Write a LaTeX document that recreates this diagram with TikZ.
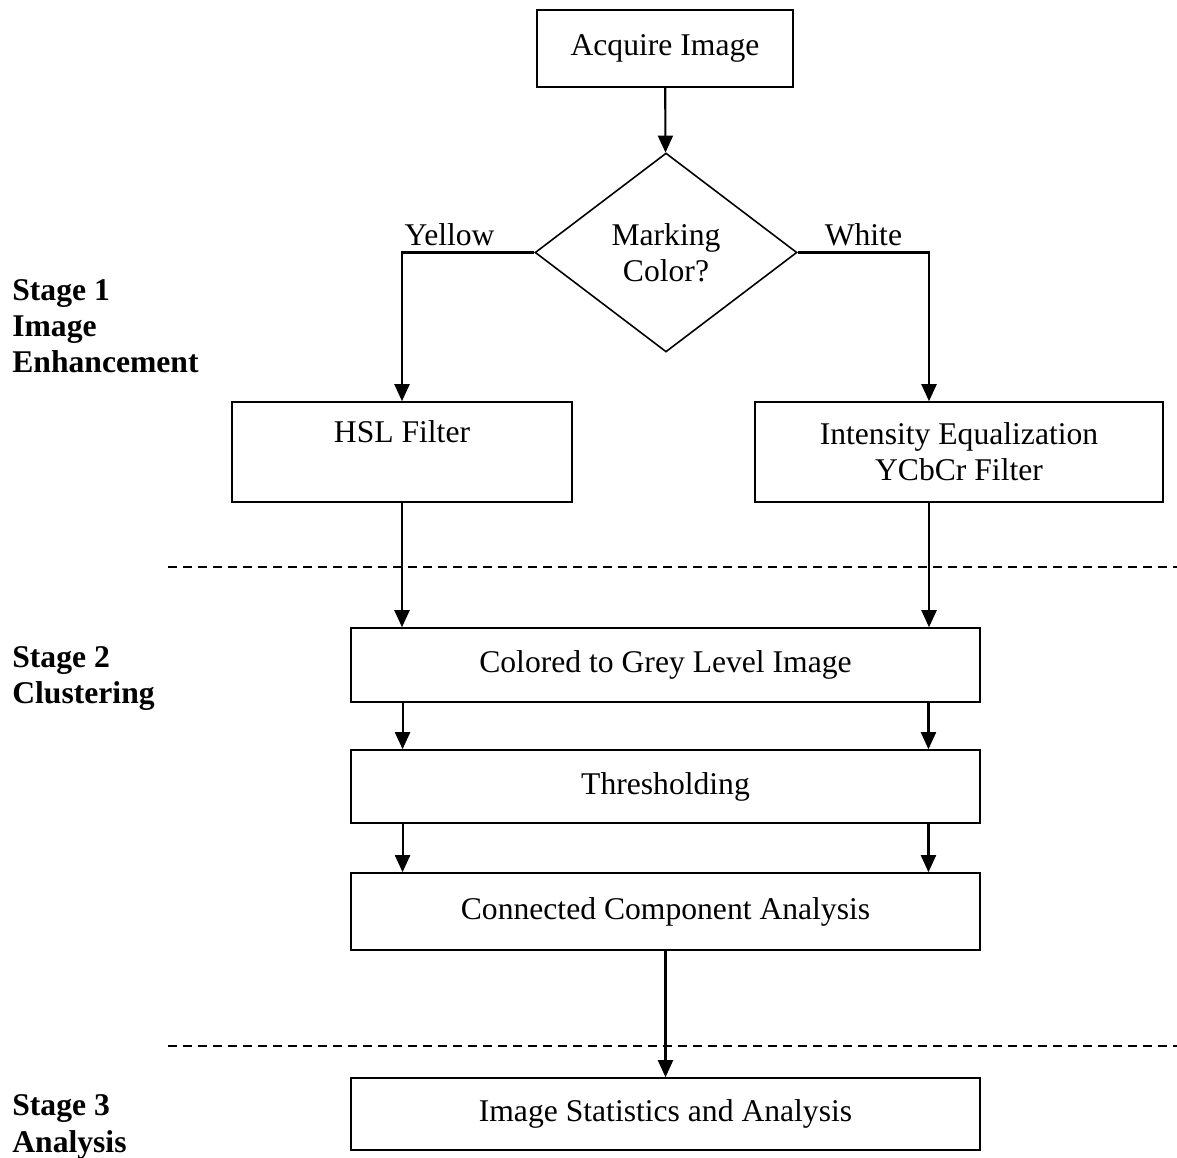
\documentclass[tikz,border=0pt]{standalone}
\usepackage{fontspec}
\setmainfont{Liberation Serif}
\usetikzlibrary{shapes.geometric, arrows.meta, positioning, calc}

\begin{document}
\begin{tikzpicture}[
    x=0.02cm, y=-0.02cm,
    font=\fontsize{18}{20.5}\selectfont,
    >={Triangle[length=0.34cm, width=0.3cm]},
    box/.style={draw, line width=0.9pt, align=center, inner sep=0pt},
    decision/.style={draw, diamond, line width=0.9pt, align=center, inner sep=0pt, minimum width=5.24cm, minimum height=3.98cm},
    arrow/.style={->, line width=1.2pt},
    sep/.style={line width=0.8pt, dash pattern=on 0.18cm off 0.12cm},
    stage/.style={font=\fontsize{18}{20.5}\selectfont\bfseries, align=left, anchor=base west, inner sep=0pt}
]
\useasboundingbox (0,0) rectangle (1177,1158);

% Stage titles (base = last line)
\node[stage] (stage1) at (12,373) {Stage 1\\Image\\Enhancement};
\node[stage] (stage2) at (12,704) {Stage 2\\Clustering};
\node[stage] (stage3) at (12,1152) {Stage 3\\Analysis};

% Stage separators
\draw[sep] (168,567) -- (1177,567);
\draw[sep] (168,1046) -- (1177,1046);

% Nodes
\node[box, minimum width=5.12cm, minimum height=1.54cm] (acquire) at (665,48.5) {Acquire Image};
\node[decision] (decide) at (666,252.5) {Marking\\Color?};
\node[box, minimum width=6.8cm, minimum height=2cm, text depth=0.8cm] (hsl) at (402,452) {HSL Filter};
\node[box, minimum width=8.16cm, minimum height=2cm] (ycbcr) at (959,452) {Intensity Equalization\\YCbCr Filter};
\node[box, minimum width=12.58cm, minimum height=1.48cm] (grey) at (665.5,665) {Colored to Grey Level Image};
\node[box, minimum width=12.58cm, minimum height=1.46cm] (thresh) at (665.5,786.5) {Thresholding};
\node[box, minimum width=12.58cm, minimum height=1.54cm] (cca) at (665.5,911.5) {Connected Component Analysis};
\node[box, minimum width=12.58cm, minimum height=1.44cm] (stats) at (665.5,1114) {Image Statistics and Analysis};

% Arrows
\draw[arrow] (acquire) -- (decide);
\draw[arrow] (decide.west) -| node[pos=0.32, above] {Yellow} (hsl.north);
\draw[arrow] (decide.east) -| node[pos=0.25, above] {White} ([xshift=-0.6cm]ycbcr.north);
\draw[arrow] (hsl.south) -- (hsl.south |- grey.north);
\draw[arrow] ([xshift=-0.6cm]ycbcr.south) -- ([xshift=-0.6cm]ycbcr.south |- grey.north);
\foreach \a/\b in {grey/thresh, thresh/cca}
  \foreach \dx in {-5.26cm, 5.26cm}
    \draw[arrow] ([xshift=\dx]\a.south) -- ([xshift=\dx]\b.north);
\draw[arrow] (cca) -- (stats);

\end{tikzpicture}
\end{document}
